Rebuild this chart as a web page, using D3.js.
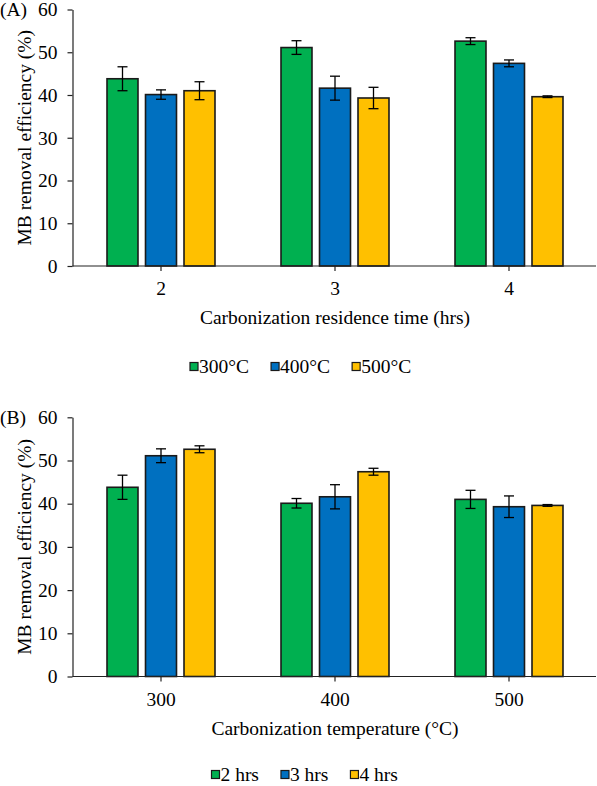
<!DOCTYPE html>
<html>
<head>
<meta charset="utf-8">
<script src="https://cdn.jsdelivr.net/npm/d3@7"></script>
<style>
  body { margin: 0; background: #fff; }
  svg { display: block; font-family: "Liberation Serif", "Times New Roman", serif; }
</style>
</head>
<body>
<div id="chart"></div>
<script>
// data
const temps = ['300', '400', '500'];
const times = ['2', '3', '4'];

// removal efficiency (%) per temperature, indexed by residence time 2/3/4 hrs
const eff300 = [43.8, 51.1, 52.6];
const eff400 = [40.1, 41.6, 47.4];
const eff500 = [41.0, 39.3, 39.6];

// error bar half-lengths, same layout
const err300 = [2.8, 1.6, 0.8];
const err400 = [1.1, 2.8, 0.8];
const err500 = [2.1, 2.5, 0.2];

const yTicks = [0, 10, 20, 30, 40, 50, 60];
const colors = ['#00B050', '#0070C0', '#FFC000'];

const W = 597, H = 786;
const FONT = 19.5;

const effByTemp = [eff300, eff400, eff500];
const errByTemp = [err300, err400, err500];

// panel A: categories = times, series = temps
const rowsA = times.map((t, i) => ({
  cat: t,
  vals: temps.map((tp, j) => ({ key: tp + '°C', v: effByTemp[j][i], e: errByTemp[j][i] })),
}));
// panel B: categories = temps, series = times
const rowsB = temps.map((tp, j) => ({
  cat: tp,
  vals: times.map((t, i) => ({ key: t + ' hrs', v: effByTemp[j][i], e: errByTemp[j][i] })),
}));

const svg = d3.select('#chart').append('svg')
  .attr('width', W)
  .attr('height', H);

const drawPanel = (cfg) => {
  const g = svg.append('g');
  const y = d3.scaleLinear().domain([0, 60]).range([cfg.y0, cfg.y60]);
  const x0 = d3.scaleBand().domain(cfg.rows.map((d) => d.cat)).range([74, 596]);
  const keys = cfg.rows[0].vals.map((d) => d.key);
  const x1 = d3.scaleBand().domain(keys)
    .range([29.25, x0.bandwidth() - 29.25])
    .paddingInner(0.195)
    .paddingOuter(0.0975);

  // bars
  const grp = g.selectAll('g.grp')
    .data(cfg.rows)
    .enter()
    .append('g')
    .attr('class', 'grp')
    .attr('transform', (d) => `translate(${x0(d.cat)},0)`);

  grp.selectAll('rect')
    .data((d) => d.vals)
    .enter()
    .append('rect')
    .attr('x', (d) => x1(d.key))
    .attr('y', (d) => y(d.v))
    .attr('width', x1.bandwidth())
    .attr('height', (d) => y(0) - y(d.v))
    .attr('fill', (d, i) => colors[i])
    .attr('stroke', '#1a1a1a')
    .attr('stroke-width', 1.6);

  // error bars
  const eb = grp.selectAll('g.err')
    .data((d) => d.vals)
    .enter()
    .append('g')
    .attr('class', 'err')
    .attr('stroke', '#000')
    .attr('stroke-width', 1.3);
  const cx = (d) => x1(d.key) + x1.bandwidth() / 2;
  eb.append('line')
    .attr('x1', cx).attr('x2', cx)
    .attr('y1', (d) => y(d.v + d.e)).attr('y2', (d) => y(d.v - d.e));
  eb.append('line')
    .attr('x1', (d) => cx(d) - 5).attr('x2', (d) => cx(d) + 5)
    .attr('y1', (d) => y(d.v + d.e)).attr('y2', (d) => y(d.v + d.e));
  eb.append('line')
    .attr('x1', (d) => cx(d) - 5).attr('x2', (d) => cx(d) + 5)
    .attr('y1', (d) => y(d.v - d.e)).attr('y2', (d) => y(d.v - d.e));

  // y axis
  const yAxis = g.append('g')
    .attr('transform', 'translate(72.5,0)')
    .call(d3.axisLeft(y).tickValues(yTicks).tickSize(5).tickPadding(10).tickSizeOuter(0));
  yAxis.select('.domain').attr('stroke', '#222').attr('stroke-width', 1.2);
  yAxis.selectAll('.tick line').attr('stroke', '#222').attr('stroke-width', 1.2);
  yAxis.selectAll('.tick text')
    .attr('font-size', FONT)
    .attr('font-family', 'Liberation Serif, serif')
    .attr('fill', '#000');

  // x axis
  const xAxis = g.append('g')
    .attr('transform', `translate(0,${cfg.y0})`)
    .call(d3.axisBottom(x0).tickSize(5).tickPadding(10.5).tickSizeOuter(0));
  xAxis.select('.domain').attr('stroke', '#222').attr('stroke-width', 1.2)
    .attr('d', `M72.5,0H596`);
  xAxis.selectAll('.tick line').attr('stroke', '#222').attr('stroke-width', 1.2);
  xAxis.selectAll('.tick text')
    .attr('font-size', FONT)
    .attr('font-family', 'Liberation Serif, serif')
    .attr('fill', '#000');

  // axis titles
  g.append('text')
    .attr('x', 335)
    .attr('y', cfg.y0 + 58)
    .attr('text-anchor', 'middle')
    .attr('font-size', FONT)
    .text(cfg.xTitle);

  g.append('text')
    .attr('transform', `translate(24,${(cfg.y0 + cfg.y60) / 2}) rotate(-90)`)
    .attr('text-anchor', 'middle')
    .attr('dominant-baseline', 'central')
    .attr('font-size', FONT)
    .text('MB removal efficiency (%)');

  // panel tag
  g.append('text')
    .attr('x', 0)
    .attr('y', cfg.y60 + 6.5)
    .attr('font-size', FONT)
    .text(cfg.tag);

  // legend
  const leg = g.append('g').attr('transform', `translate(0,${cfg.legY})`);
  let lx = cfg.legX;
  keys.forEach((k, i) => {
    leg.append('rect')
      .attr('x', lx).attr('y', -4)
      .attr('width', 8).attr('height', 8)
      .attr('fill', colors[i])
      .attr('stroke', '#1a1a1a')
      .attr('stroke-width', 1.2);
    const t = leg.append('text')
      .attr('x', lx + 9)
      .attr('y', 0)
      .attr('dy', '0.35em')
      .attr('font-size', FONT)
      .text(k);
    lx += 9 + t.node().getComputedTextLength() + 22;
  });
};

drawPanel({
  rows: rowsA,
  y0: 266,
  y60: 9.5,
  xTitle: 'Carbonization residence time (hrs)',
  tag: '(A)',
  legY: 366.5,
  legX: 190,
});

drawPanel({
  rows: rowsB,
  y0: 676.5,
  y60: 417.3,
  xTitle: 'Carbonization temperature (°C)',
  tag: '(B)',
  legY: 774.5,
  legX: 211.5,
});
</script>
</body>
</html>
